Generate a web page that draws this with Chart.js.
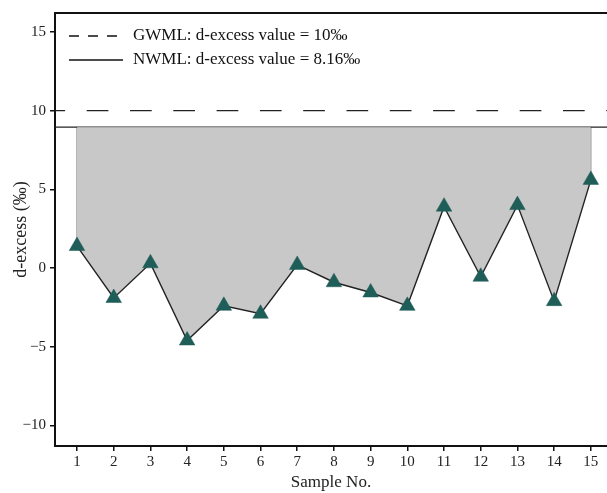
<!DOCTYPE html>
<html>
<head>
<meta charset="utf-8">
<script src="https://cdn.jsdelivr.net/npm/chart.js@4/dist/chart.umd.min.js"></script>
<style>
  html, body { margin: 0; padding: 0; background: #fff; overflow: hidden; }
  #wrap { width: 607px; height: 493px; }
</style>
</head>
<body>
<div id="wrap"><canvas id="dexChart" width="607" height="493"></canvas></div>
<script>
// ===============================
// Data
// ===============================
const samples = [1, 2, 3, 4, 5, 6, 7, 8, 9, 10, 11, 12, 13, 14, 15];
const dExcess = [1.4, -1.9, 0.3, -4.6, -2.4, -2.9, 0.2, -0.9, -1.55, -2.4, 3.9, -0.55, 4.0, -2.1, 5.6];
const gwmlValue = 10;
const nwmlDrawn = 8.95;   // where the NWML line sits in the figure
const xTicks = samples;
const yTicks = [-10, -5, 0, 5, 10, 15];
const xMin = 0.4, xMax = 15.44;
const yMin = -11.3, yMax = 16.2;
const legendLabels = ["GWML: d-excess value = 10‰", "NWML: d-excess value = 8.16‰"];

const SERIF = "'Liberation Serif', 'DejaVu Serif', serif";
const pts = samples.map((s, i) => ({ x: s, y: dExcess[i] }));
const first = pts[0], last = pts[pts.length - 1];

// ===============================
// Frame + legend plugin
// ===============================
const framePlugin = {
  id: "frame",
  afterDraw(chart) {
    const { ctx, chartArea: a } = chart;
    ctx.save();
    // top border
    ctx.strokeStyle = "#111";
    ctx.lineWidth = 2;
    ctx.beginPath();
    ctx.moveTo(a.left, a.top);
    ctx.lineTo(a.right, a.top);
    ctx.stroke();

    // legend
    const lx0 = a.left + 14, lx1 = a.left + 68;
    const rows = [a.top + 23, a.top + 47];
    ctx.lineWidth = 1.3;
    ctx.strokeStyle = "#111";
    ctx.font = "17px " + SERIF;
    ctx.fillStyle = "#111";
    ctx.textBaseline = "middle";
    rows.forEach((y, i) => {
      ctx.setLineDash(i === 0 ? [10, 9] : []);
      ctx.beginPath();
      ctx.moveTo(lx0, y);
      ctx.lineTo(lx1, y);
      ctx.stroke();
      ctx.setLineDash([]);
      ctx.fillText(legendLabels[i], lx1 + 10, y);
    });
    ctx.restore();
  }
};

new Chart(document.getElementById("dexChart"), {
  type: "scatter",
  data: {
    datasets: [
      {
        label: "GWML",
        data: [{ x: xMin, y: gwmlValue }, { x: xMax, y: gwmlValue }],
        showLine: true,
        borderColor: "#222",
        borderWidth: 1.4,
        borderDash: [21.7, 21.6],
        borderDashOffset: 11.6,
        pointRadius: 0,
        order: 1
      },
      {
        label: "NWML",
        data: [{ x: xMin, y: nwmlDrawn }, { x: xMax, y: nwmlDrawn }],
        showLine: true,
        borderColor: "#222",
        borderWidth: 1.4,
        pointRadius: 0,
        order: 1
      },
      {
        label: "edge-left",
        data: [first, { x: first.x, y: nwmlDrawn }],
        showLine: true,
        borderColor: "#666",
        borderWidth: 1,
        pointRadius: 0,
        order: 2
      },
      {
        label: "edge-right",
        data: [last, { x: last.x, y: nwmlDrawn }],
        showLine: true,
        borderColor: "#666",
        borderWidth: 1,
        pointRadius: 0,
        order: 2
      },
      {
        label: "d-excess",
        data: pts,
        showLine: true,
        borderColor: "#222",
        borderWidth: 1.4,
        backgroundColor: "#c8c8c8",
        fill: { value: nwmlDrawn },
        pointStyle: "triangle",
        pointRadius: 9,
        pointBackgroundColor: "#1f5d59",
        pointBorderColor: "#1f5d59",
        pointBorderWidth: 0.5,
        order: 0
      }
    ]
  },
  options: {
    responsive: false,
    animation: false,
    layout: { autoPadding: false, padding: { top: 12, right: 0, left: 0, bottom: 0 } },
    plugins: {
      legend: { display: false },
      tooltip: { enabled: false }
    },
    scales: {
      x: {
        type: "linear",
        min: xMin,
        max: xMax,
        afterBuildTicks: s => { s.ticks = xTicks.map(v => ({ value: v })); },
        afterFit: s => { s.height = 47; s.paddingLeft = 0; s.paddingRight = 0; },
        border: { display: true, color: "#111", width: 2 },
        grid: { display: true, drawOnChartArea: false, drawTicks: true, tickLength: 5, color: "#111", lineWidth: 1.5 },
        ticks: { color: "#222", font: { family: SERIF, size: 15 }, padding: 2, maxRotation: 0, autoSkip: false },
        title: { display: true, text: "Sample No.", color: "#222", font: { family: SERIF, size: 17 }, padding: { top: 0, bottom: 0 } }
      },
      y: {
        type: "linear",
        min: yMin,
        max: yMax,
        afterBuildTicks: s => { s.ticks = yTicks.map(v => ({ value: v })); },
        afterFit: s => { s.width = 55; },
        border: { display: true, color: "#111", width: 2 },
        grid: { display: true, drawOnChartArea: false, drawTicks: true, tickLength: 5, color: "#111", lineWidth: 1.5 },
        ticks: {
          color: "#222",
          font: { family: SERIF, size: 15 },
          padding: 4,
          callback: v => (v < 0 ? "\u2212" + Math.abs(v) : String(v))
        },
        title: { display: true, text: "d-excess (‰)", color: "#222", font: { family: SERIF, size: 18 }, padding: { top: 10, bottom: 0 } }
      }
    }
  },
  plugins: [framePlugin]
});
</script>
</body>
</html>
